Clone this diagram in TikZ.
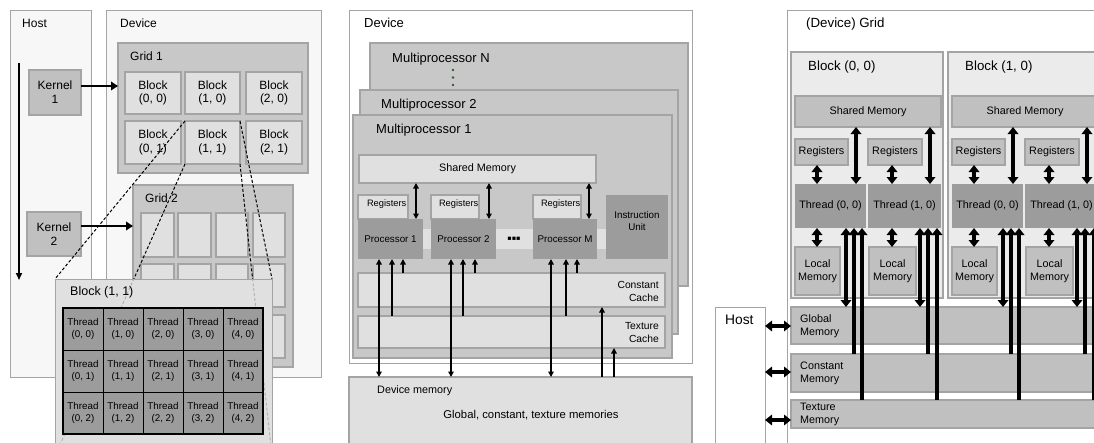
\documentclass[tikz,border=0pt]{standalone}
\usepackage{fontspec}
\setmainfont{Liberation Sans}
\newfontfamily\djv{DejaVu Sans}
\usetikzlibrary{arrows.meta}
\newcommand\fz[2]{\fontsize{#1}{#2}\selectfont}
\newcommand\bx[7]{\node[#6, anchor=north west, minimum width={((#4)-(#2))*1pt}, minimum height={((#5)-(#3))*1pt}, inner sep=0pt, outer sep=0pt, align=center] (#1) at (#2,#3) {#7};}
\definecolor{pnl}{HTML}{F7F7F7}
\definecolor{edge}{HTML}{A4A4A4}
\definecolor{gridc}{HTML}{C8C8C8}
\definecolor{lite}{HTML}{E0E0E0}
\definecolor{midg}{HTML}{C0C0C0}
\definecolor{dark}{HTML}{9C9C9C}
\definecolor{blkbg}{HTML}{EBEBEB}
\definecolor{dotg}{HTML}{2E5E2E}
\begin{document}
\begin{tikzpicture}[x=1pt,y=-1pt,
  pnlbox/.style={draw=edge, line width=1pt, fill=pnl},
  wbox/.style={draw=edge, line width=1pt, fill=white},
  gridbox/.style={draw=edge, line width=1.5pt, fill=gridc},
  blk/.style={draw=edge, line width=1.5pt, fill=lite, font=\fz{12}{13.5}},
  kern/.style={draw=edge, line width=1.2pt, fill=midg, font=\fz{12}{14}},
  thr/.style={draw=black, line width=1pt, fill=dark, font=\fz{9.8}{12.5}},
  lbl/.style={anchor=base west, inner sep=0pt},
  mp/.style={draw=edge, line width=1.5pt, fill=gridc},
  ltb/.style={draw=edge, line width=1.2pt, fill=lite},
  proc/.style={fill=dark, font=\fz{9.8}{12}},
  memb/.style={draw=edge, line width=1.2pt, fill=midg, font=\fz{10.8}{13}},
  blkb/.style={draw=edge, line width=1.2pt, fill=blkbg},
  thb/.style={fill=dark, font=\fz{10.8}{13}},
  dsh/.style={draw=black, line width=1pt, dash pattern=on 3pt off 2pt},
  karr/.style={draw=black, line width=2.8pt, -{Triangle[length=7pt,width=8.5pt]}},
  harr/.style={draw=black, line width=1.6pt, -{Triangle[length=7pt,width=6pt]}},
  marr/.style={draw=black, line width=1.6pt, -{Triangle[length=5.5pt,width=5.5pt]}},
  mdbl/.style={draw=black, line width=1.6pt, {Triangle[length=5.5pt,width=5.5pt]}-{Triangle[length=5.5pt,width=5.5pt]}},
  tup/.style={draw=black, line width=3.2pt, -{Triangle[length=7pt,width=10.5pt]}},
  tdbl/.style={draw=black, line width=3.2pt, {Triangle[length=7pt,width=10.5pt]}-{Triangle[length=7pt,width=10.5pt]}}
]
\useasboundingbox (0,0) rectangle (1094,442);
\clip (0,0) rectangle (1094,442);
\fill[white] (0,0) rectangle (1094,442);

% ================= LEFT PANEL =================
\bx{host}{10}{10}{91}{377}{pnlbox}{}
\node[lbl, font=\fz{12}{14}] (hostl) at (22,27) {Host};
\bx{dev}{106}{10}{321}{377}{pnlbox}{}
\node[lbl, font=\fz{12}{14}] (devl) at (120,27) {Device};

\bx{k1}{29}{70}{81}{115}{kern}{Kernel\\1}
\bx{k2}{27}{212}{81}{256}{kern}{Kernel\\2}
\coordinate (ht) at (19,63);
\coordinate (hb) at (19,280);
\draw[harr] (ht) -- (hb);

\bx{g1}{118}{43}{308}{173}{gridbox}{}
\node[lbl, font=\fz{12}{14}] (g1l) at (130,60) {Grid 1};
\bx{b00}{125}{72}{181}{114}{blk}{Block\\(0, 0)}
\bx{b10}{185}{72}{240}{114}{blk}{Block\\(1, 0)}
\bx{b20}{246}{72}{302}{114}{blk}{Block\\(2, 0)}
\bx{b01}{125}{121}{181}{164}{blk}{Block\\(0, 1)}
\bx{b11}{185}{121}{240}{164}{blk}{Block\\(1, 1)}
\bx{b21}{246}{121}{302}{164}{blk}{Block\\(2, 1)}

\bx{g2}{133}{185}{293}{367}{gridbox}{}
\node[lbl, font=\fz{12}{14}] (g2l) at (145,202) {Grid 2};
\foreach \xa/\xb [count=\i] in {141/174,178/211,216/248,253/285}{
  \foreach \ya/\yb [count=\j] in {213/257,264/307,315/358}{
    \bx{gb\i\j}{\xa}{\ya}{\xb}{\yb}{blk}{}
  }
}

\draw[karr] (k1.east |- 0,86) -- (g1.west |- 0,86);
\draw[karr] (k2.east |- 0,226) -- (g2.west |- 0,226);

\coordinate (zbnw) at (55,279);
\coordinate (zbne) at (272,279);
\coordinate (zbsw) at (55,456);
\coordinate (zbse) at (272,456);
\draw[dsh] (b11.north west) -- (zbnw);
\draw[dsh] (b11.south west) -- (zbsw);
\draw[dsh] (b11.north east) -- (zbne);
\draw[dsh] (b11.south east) -- (zbse);

\bx{zb}{55}{279}{272}{456}{draw=edge, line width=1pt, fill=lite}{}
\begin{scope}
  \clip (zb.north west) rectangle (zb.south east);
  \draw[dsh, draw=black!30] (b11.south west) -- (zbsw);
  \draw[dsh, draw=black!30] (b11.south east) -- (zbse);
\end{scope}
\node[lbl, font=\fz{12.5}{14}] (zbl) at (70,295) {Block (1, 1)};
\foreach \c in {0,...,4}{\foreach \r in {0,1,2}{
  \bx{t\c\r}{63+40*\c}{308+42*\r}{103+40*\c}{350+42*\r}{thr}{Thread\\(\c, \r)}
}}
\draw[black, line width=2pt] (t00.north west) rectangle (t42.south east);

% ================= MIDDLE PANEL =================
\bx{mdev}{349}{10}{692}{363}{wbox}{}
\node[lbl, font=\fz{13}{15}] (mdevl) at (364,27) {Device};
\bx{mpN}{370}{43}{688}{286}{mp}{}
\node[lbl, font=\fz{13}{15}] (mpNl) at (392,62) {Multiprocessor N};
\fill[dotg] (453,70) circle (1.4pt);
\fill[dotg] (453,77.5) circle (1.4pt);
\fill[dotg] (453,85) circle (1.4pt);
\bx{mp2}{360}{90}{678}{334}{mp}{}
\node[lbl, font=\fz{13}{15}] (mp2l) at (381,108) {Multiprocessor 2};
\bx{mp1}{353}{115}{672}{358}{mp}{}
\node[lbl, font=\fz{13}{15}] (mp1l) at (376,133) {Multiprocessor 1};

\bx{sm}{359}{155}{596}{183}{ltb, font=\fz{10.8}{13}}{Shared Memory}
\bx{strip}{358}{229}{606}{249}{fill=lite}{}
\bx{r1}{358}{195}{408}{219}{ltb}{}
\bx{r2}{431}{195}{479}{219}{ltb}{}
\bx{r3}{533}{195}{581}{219}{ltb}{}
\node[anchor=base east, inner sep=0pt, font=\fz{9.3}{11}] (r1l) at (406.5,206) {Registers};
\node[anchor=base east, inner sep=0pt, font=\fz{9.3}{11}] (r2l) at (478.5,206) {Registers};
\node[anchor=base east, inner sep=0pt, font=\fz{9.3}{11}] (r3l) at (580.5,206) {Registers};
\bx{p1}{358}{219}{423}{259}{proc}{Processor 1}
\bx{p2}{431}{219}{496}{259}{proc}{Processor 2}
\bx{p3}{533}{219}{597}{259}{proc}{Processor M}
\node[inner sep=0pt, font=\djv\fz{6.5}{7}] (pdots) at (514,239) {▪▪▪};
\bx{iu}{606}{195}{668}{259}{proc}{}
\node[align=center, inner sep=0pt, font=\fz{9.8}{12}] (iul) at (637,221) {Instruction\\Unit};

\bx{cc}{358}{273}{665}{307}{ltb}{}
\node[anchor=east, align=right, inner sep=0pt, font=\fz{10.3}{13}] (ccl) at (659,291) {Constant\\Cache};
\bx{tc}{358}{316}{665}{348}{ltb}{}
\node[anchor=east, align=right, inner sep=0pt, font=\fz{10.3}{13}] (tcl) at (659,333) {Texture\\Cache};

\bx{dm}{349}{377}{692}{470}{ltb}{}
\node[lbl, font=\fz{10.8}{13}] (dml) at (377,393) {Device memory};
\node[inner sep=0pt, font=\fz{11.3}{13}] (dmt) at (531,415) {Global, constant, texture memories};

\draw[mdbl] (sm.south -| 416,0) -- (p1.north -| 416,0);
\draw[mdbl] (sm.south -| 489,0) -- (p2.north -| 489,0);
\draw[mdbl] (sm.south -| 589,0) -- (p3.north -| 589,0);

\draw[mdbl] (p1.south -| 379,0) -- (dm.north -| 379,0);
\draw[marr] (tc.north -| 392,0) -- (p1.south -| 392,0);
\draw[marr] (cc.north -| 403,0) -- (p1.south -| 403,0);
\draw[mdbl] (p2.south -| 451,0) -- (dm.north -| 451,0);
\draw[marr] (tc.north -| 463,0) -- (p2.south -| 463,0);
\draw[marr] (cc.north -| 475,0) -- (p2.south -| 475,0);
\draw[mdbl] (p3.south -| 551,0) -- (dm.north -| 551,0);
\draw[marr] (tc.north -| 566,0) -- (p3.south -| 566,0);
\draw[marr] (cc.north -| 577,0) -- (p3.south -| 577,0);
\draw[marr] (dm.north -| 602,0) -- (cc.south -| 602,0);
\draw[marr] (dm.north -| 614,0) -- (tc.south -| 614,0);

% ================= RIGHT PANEL =================
\bx{rg}{787}{10}{1120}{470}{wbox}{}
\node[lbl, font=\fz{13.3}{15}] (rgl) at (806,27) {(Device) Grid};
\bx{gm}{791}{307}{1120}{344}{memb}{}
\node[anchor=west, align=left, inner sep=0pt, font=\fz{10.8}{13}] (gml) at (800,326) {Global\\Memory};
\bx{cm}{791}{354}{1120}{392}{memb}{}
\node[anchor=west, align=left, inner sep=0pt, font=\fz{10.8}{13}] (cml) at (800,373) {Constant\\Memory};
\bx{tm}{791}{400}{1120}{428}{memb}{}
\node[anchor=west, align=left, inner sep=0pt, font=\fz{10.8}{13}] (tml) at (800,414) {Texture\\Memory};
\bx{rh}{715}{307}{765}{470}{wbox}{}
\node[lbl, font=\fz{13.8}{15}] (rhl) at (725,324) {Host};
\draw[tdbl] (rh.east |- 0,326) -- (gm.west |- 0,326);
\draw[tdbl] (rh.east |- 0,372) -- (cm.west |- 0,372);
\draw[tdbl] (rh.east |- 0,420) -- (tm.west |- 0,420);

\foreach \o/\n/\k in {0/a/0,157/b/1}{
\begin{scope}[xshift=\o]
  \bx{bk\n}{791}{52}{943}{298}{blkb}{}
  \node[lbl, font=\fz{13.3}{15}] (bkl\n) at (808,70) {Block (\k, 0)};
  \bx{shm\n}{795}{96}{941}{127}{memb}{Shared Memory}
  \bx{rga\n}{795}{139}{848}{165}{memb}{Registers}
  \bx{rgb\n}{868}{139}{922}{165}{memb}{Registers}
  \bx{tha\n}{795}{184}{866}{228}{thb}{Thread (0, 0)}
  \bx{thb\n}{868}{184}{941}{228}{thb}{Thread (1, 0)}
  \bx{lma\n}{795}{247}{840}{295}{memb}{Local\\Memory}
  \bx{lmb\n}{869}{247}{916}{295}{memb}{Local\\Memory}
  \draw[tdbl] (rga\n.south -| 817,0) -- (tha\n.north -| 817,0);
  \draw[tdbl] (tha\n.south -| 817,0) -- (lma\n.north -| 817,0);
  \draw[tdbl] (rgb\n.south -| 892,0) -- (thb\n.north -| 892,0);
  \draw[tdbl] (thb\n.south -| 892,0) -- (lmb\n.north -| 892,0);
  \draw[tdbl] (shm\n.south -| 856,0) -- (tha\n.north -| 856,0);
  \draw[tdbl] (shm\n.south -| 930,0) -- (thb\n.north -| 930,0);
  \draw[tdbl] (tha\n.south -| 846,0) -- (gm.north -| 846,0);
  \draw[tup] (cm.north -| 854,0) -- (tha\n.south -| 854,0);
  \draw[tup] (tm.north -| 862,0) -- (tha\n.south -| 862,0);
  \draw[tdbl] (thb\n.south -| 920,0) -- (gm.north -| 920,0);
  \draw[tup] (cm.north -| 928,0) -- (thb\n.south -| 928,0);
  \draw[tup] (tm.north -| 937,0) -- (thb\n.south -| 937,0);
\end{scope}}
\end{tikzpicture}
\end{document}
